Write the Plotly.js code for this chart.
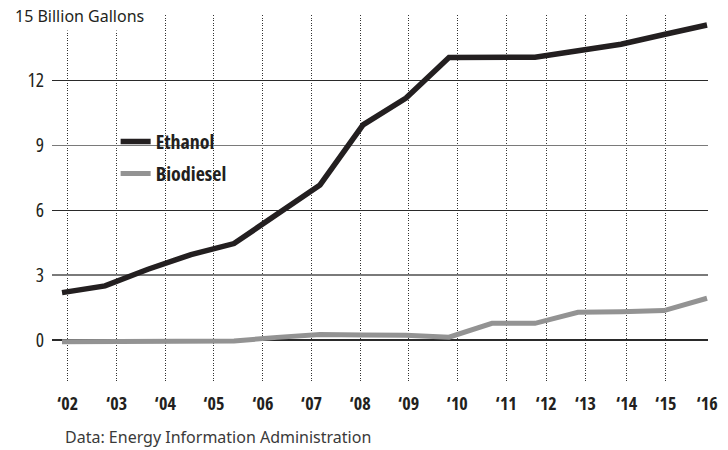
<!DOCTYPE html>
<html>
<head>
<meta charset="utf-8">
<script src="https://cdn.plot.ly/plotly-3.0.1.min.js"></script>
<style>
  html, body { margin: 0; padding: 0; background: #fff; }
  #chart { width: 728px; height: 450px; }
  /* condensed face for chart labels (Open Sans has a condensed width);
     applied globally so Plotly's text measuring node matches too */
  text[style*="Open Sans"] { font-stretch: 75%; }
</style>
</head>
<body>
<div id="chart"></div>
<script>
// ---- Data ----
// 16 plotted points, one per year
const years = [2001, 2002, 2003, 2004, 2005, 2006, 2007, 2008, 2009, 2010, 2011, 2012, 2013, 2014, 2015, 2016];
const ethanol = [2.19, 2.50, 3.27, 3.95, 4.46, 5.81, 7.17, 9.95, 11.19, 13.06, 13.07, 13.08, 13.38, 13.68, 14.13, 14.57];
const biodiesel = [-0.08, -0.08, -0.08, -0.08, -0.05, 0.12, 0.25, 0.23, 0.22, 0.13, 0.77, 0.77, 1.28, 1.31, 1.36, 1.93];

// x tick labels and where the reference places them on the time axis
const xTickLabels = ["\u201802", "\u201803", "\u201804", "\u201805", "\u201806", "\u201807", "\u201808", "\u201809", "\u201810", "\u201811", "\u201812", "\u201813", "\u201814", "\u201815", "\u201816"];
const xTickPositions = [2001.13, 2002.27, 2003.40, 2004.53, 2005.67, 2006.80, 2007.93, 2009.06, 2010.19, 2011.33, 2012.26, 2013.17, 2014.13, 2015.04, 2016.0];

// y ticks: dark grid lines and grey grid lines alternate
const yDarkTicks = [0, 6, 12];
const yDarkLabels = ["0", "6", "12"];
const yGreyTicks = [3, 9, 15];
const yGreyLabels = ["3", "9", ""];

const yUnitTitle = "15 Billion Gallons";
const sourceText = "Data: Energy Information Administration";

// ---- Styling ----
const condensed = "'Open Sans', sans-serif";   // drawn at 75% width
const plain = "'Noto Sans', sans-serif";
const ink = "#231f20";

const traces = [
  {
    x: years, y: ethanol, name: "Ethanol", type: "scatter", mode: "lines",
    line: { color: ink, width: 5.5 }, legendgroup: "a"
  },
  {
    x: years, y: biodiesel, name: "Biodiesel", type: "scatter", mode: "lines",
    line: { color: "#939393", width: 5 }, legendgroup: "b"
  }
];

const layout = {
  width: 728, height: 450,
  margin: { l: 52, r: 20, t: 15, b: 67 },
  paper_bgcolor: "#fff", plot_bgcolor: "#fff",
  showlegend: true,
  legend: {
    x: 0.097, y: 0.709, xanchor: "left", yanchor: "top",
    bgcolor: "rgba(0,0,0,0)", borderwidth: 0,
    font: { family: condensed, size: 20, color: ink, weight: "bold" },
    traceorder: "grouped", tracegroupgap: 3
  },
  xaxis: {
    range: [2000.767, 2016.023],
    tickmode: "array", tickvals: xTickPositions, ticktext: xTickLabels,
    showgrid: true, gridcolor: "#333", gridwidth: 1, griddash: "1px,1.5px",
    zeroline: false, showline: false, ticks: "",
    ticklabelstandoff: 8,
    tickfont: { family: condensed, size: 18, color: ink, weight: "bold" },
    fixedrange: true
  },
  yaxis: {
    range: [-1.99, 15.03],
    tickmode: "array", tickvals: yDarkTicks, ticktext: yDarkLabels,
    showgrid: true, gridcolor: "#2a2a2a", gridwidth: 1.3,
    zeroline: false, showline: false, ticks: "",
    ticklabelstandoff: 7,
    tickfont: { family: condensed, size: 19.5, color: ink },
    fixedrange: true
  },
  yaxis2: {
    overlaying: "y", side: "left", anchor: "x",
    range: [-1.99, 15.03],
    tickmode: "array", tickvals: yGreyTicks, ticktext: yGreyLabels,
    showgrid: true, gridcolor: "#7a7a7a", gridwidth: 1.5,
    zeroline: false, showline: false, ticks: "",
    ticklabelstandoff: 7,
    tickfont: { family: condensed, size: 19.5, color: ink },
    fixedrange: true
  },
  shapes: [
    { // white panel behind the legend, hiding grid lines there
      type: "rect", layer: "between", xref: "paper", yref: "paper",
      x0: 0.0687, x1: 0.290, y0: 0.492, y1: 0.75,
      fillcolor: "#fff", line: { width: 0 }
    },
    { // dotted verticals stop a little below the top rule
      type: "rect", layer: "between", xref: "paper", yref: "paper",
      x0: 0, x1: 1, y0: 0.9755, y1: 0.9946,
      fillcolor: "#fff", line: { width: 0 }
    }
  ],
  annotations: [
    {
      text: yUnitTitle, xref: "paper", yref: "y", x: -0.062, y: 15,
      xanchor: "left", yanchor: "middle", showarrow: false,
      bgcolor: "#fff", borderpad: 3,
      font: { family: plain, size: 16, color: ink }
    },
    {
      text: sourceText, xref: "paper", yref: "paper", x: 0.0168, y: -0.147,
      xanchor: "left", yanchor: "middle", showarrow: false,
      font: { family: plain, size: 16, color: "#3a3a3a" }
    }
  ]
};

// an invisible trace binds yaxis2 so its grid is drawn
traces.push({ x: [years[0]], y: [0], yaxis: "y2", type: "scatter", mode: "lines",
  showlegend: false, hoverinfo: "skip", line: { width: 0 } });

Plotly.newPlot("chart", traces, layout, { displayModeBar: false, staticPlot: true });
</script>
</body>
</html>
